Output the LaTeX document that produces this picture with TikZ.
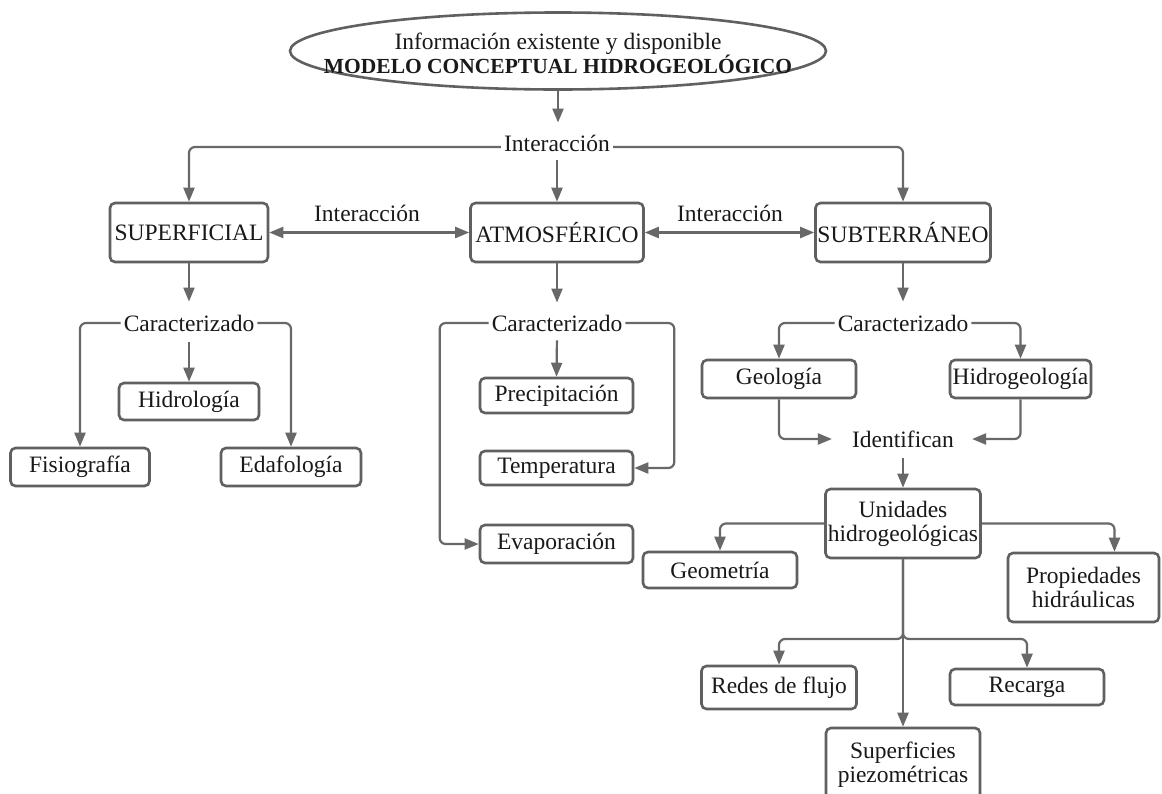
\documentclass[tikz,border=0pt]{standalone}
\usepackage{fontspec}
\setmainfont{Liberation Serif}
\usetikzlibrary{arrows.meta,shapes.geometric,calc}
\definecolor{linec}{RGB}{104,104,104}
\definecolor{bordc}{RGB}{96,96,96}
\definecolor{txtc}{RGB}{25,25,25}
\newcommand{\fsz}{\fontsize{23.5}{24}\selectfont}
\tikzset{
  box/.style={draw=bordc, line width=2.6pt, rounded corners=5pt, fill=white, inner sep=2pt, align=center, font=\fsz, text=txtc},
  lbl/.style={font=\fsz, inner sep=3pt, text=txtc},
  conn/.style={draw=linec, line width=2.2pt, rounded corners=6pt},
  arr/.style={conn, -{Triangle[length=14pt,width=11pt]}},
  darr/.style={conn, {Triangle[length=14pt,width=11pt]}-{Triangle[length=14pt,width=11pt]}}
}
\begin{document}
\begin{tikzpicture}[x=1pt,y=-1pt]
\fill[white] (0,0) rectangle (1162,793);
\useasboundingbox (0,0) rectangle (1162,793);

% top
\node[ellipse, draw=bordc, line width=2.6pt, minimum width=536pt, minimum height=77pt, inner sep=0pt] (top) at (558,51) {};
\node[lbl, align=center] (toptext) at (558,53) {Información existente y disponible\\{\fontsize{21.5}{24}\selectfont\bfseries MODELO CONCEPTUAL HIDROGEOLÓGICO}};

\node[lbl] (int) at (557,143) {Interacción};

% main boxes
\node[box, minimum width=158pt, minimum height=59pt] (sup) at (189,232.5) {SUPERFICIAL};
\node[box, minimum width=173pt, minimum height=59pt] (atm) at (557,232.5) {ATMOSFÉRICO};
\node[box, minimum width=174pt, minimum height=59pt] (sub) at (903,232.5) {SUBTERRÁNEO};
\node[lbl] (il) at (367,213) {Interacción};
\node[lbl] (ir) at (730,213) {Interacción};

% caracterizado
\node[lbl] (c1) at (189,323) {Caracterizado};
\node[lbl] (c2) at (557,323) {Caracterizado};
\node[lbl] (c3) at (903,323) {Caracterizado};

% superficial children
\node[box, minimum width=140pt, minimum height=37pt] (hid) at (189,401.5) {Hidrología};
\node[box, minimum width=139pt, minimum height=38pt] (fis) at (80,467) {Fisiografía};
\node[box, minimum width=140pt, minimum height=38pt] (eda) at (291,467) {Edafología};

% atmosferico children
\node[box, minimum width=153pt, minimum height=35pt] (pre) at (556.5,395.5) {Precipitación};
\node[box, minimum width=153pt, minimum height=34pt] (tem) at (556.5,468) {Temperatura};
\node[box, minimum width=153pt, minimum height=38pt] (eva) at (556.5,544) {Evaporación};

% subterraneo children
\node[box, minimum width=154pt, minimum height=38pt] (geo) at (779,379) {Geología};
\node[box, minimum width=141pt, minimum height=38pt] (hgeo) at (1020.5,379) {Hidrogeología};
\node[lbl] (ident) at (903,439) {Identifican};
\node[box, minimum width=155pt, minimum height=69pt] (uni) at (903,523.5) {Unidades\\hidrogeológicas};
\node[box, minimum width=154pt, minimum height=36pt] (geom) at (720,570) {Geometría};
\node[box, minimum width=151pt, minimum height=69pt] (prop) at (1083.5,587.5) {Propiedades\\hidráulicas};
\node[box, minimum width=155pt, minimum height=43pt] (redes) at (779,687.5) {Redes de flujo};
\node[box, minimum width=154pt, minimum height=36pt] (rec) at (1027,687) {Recarga};
\node[box, minimum width=154pt, minimum height=74pt] (sp) at (903,765) {Superficies\\piezométricas};
\coordinate (jn) at (903,639);

% connectors
\draw[arr, shorten >=9pt] (top.south) -- (top.south |- int.north);
\draw[arr] ([yshift=-4pt]int.west) -| (sup.north);
\draw[arr] ([yshift=-4pt]int.east) -| (sub.north);
\draw[arr, shorten <=6pt] (int.south) -- (atm.north);
\draw[darr] (sup.east) -- (atm.west);
\draw[darr] (atm.east) -- (sub.west);

\draw[arr, shorten >=10pt] (sup.south) -- (c1.north);
\draw[arr, shorten >=9pt] (atm.south) -- (c2.north);
\draw[arr, shorten >=10pt] (sub.south) -- (c3.north);

\draw[arr] (c1.west) -| (fis.north);
\draw[arr] (c1.east) -| (eda.north);
\draw[arr, shorten <=8pt] (c1.south) -- (hid.north);

\draw[arr, shorten <=6pt] (c2.south) -- (pre.north);
\draw[arr] (c2.east) -| ([xshift=40pt]tem.east) -- (tem.east);
\draw[arr] (c2.west) -| ([xshift=-39pt]eva.west) -- (eva.west);

\draw[arr] (c3.west) -| (geo.north);
\draw[arr] (c3.east) -| (hgeo.north);
\draw[arr, shorten >=17pt] (geo.south) |- (ident.west);
\draw[arr, shorten >=15pt] (hgeo.south) |- (ident.east);
\draw[arr, shorten <=7pt] (ident.south) -- (uni.north);

\draw[arr] (uni.west) -| (geom.north);
\draw[arr] (uni.east) -| ([xshift=31pt]prop.north);
\draw[arr] (uni.south) -- (jn) -| (redes.north);
\draw[arr] (uni.south) -- (jn) -| (rec.north);
\draw[arr] (uni.south) -- (sp.north);
\end{tikzpicture}
\end{document}
